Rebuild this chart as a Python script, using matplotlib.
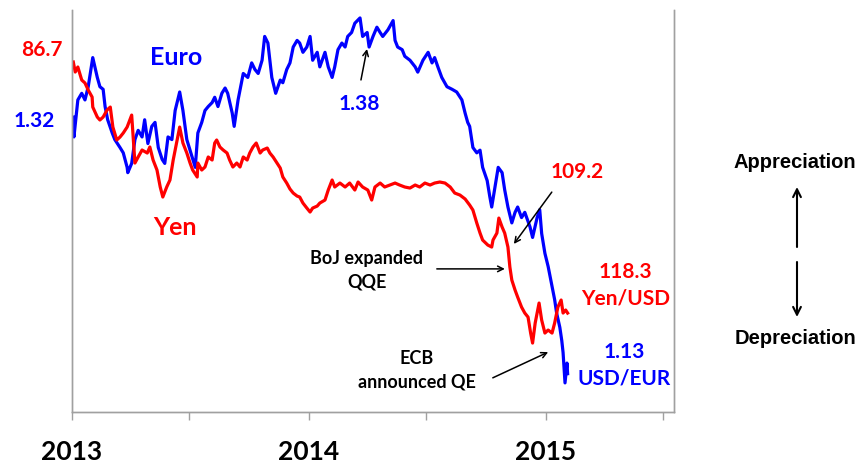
import numpy as np
import pandas as pd
import matplotlib
matplotlib.use('Agg')
import matplotlib.pyplot as plt

# days since 2013-01-01
euro_day = [2, 3, 9, 15, 20, 25, 32, 39, 43, 48,
            51, 55, 62, 66, 74, 79, 85, 86, 92, 97,
            102, 108, 112, 117, 123, 128, 133, 139, 143, 148,
            154, 159, 166, 171, 177, 185, 190, 194, 200, 205,
            210, 216, 220, 225, 231, 236, 240, 247, 250, 256,
            264, 271, 277, 282, 287, 293, 297, 302, 308, 314,
            321, 325, 331, 336, 341, 347, 351, 356, 362, 367,
            371, 378, 382, 390, 395, 401, 405, 410, 416, 421,
            425, 431, 436, 444, 448, 455, 458, 464, 470, 475,
            479, 487, 495, 498, 502, 509, 513, 521, 529, 533,
            541, 549, 555, 559, 564, 570, 578, 586, 593, 601,
            606, 610, 613, 618, 624, 629, 633, 640, 644, 647,
            652, 657, 663, 667, 672, 678, 683, 687, 693, 698,
            706, 710, 717, 721, 724, 729, 734, 740, 744, 747,
            752, 755, 757, 760, 763, 764]
# USD per EUR
euro_rate = [1.325, 1.310, 1.338, 1.343, 1.338, 1.348, 1.370, 1.355, 1.348, 1.346,
             1.333, 1.323, 1.313, 1.308, 1.302, 1.298, 1.287, 1.283, 1.290, 1.308,
             1.315, 1.310, 1.323, 1.305, 1.318, 1.321, 1.302, 1.293, 1.290, 1.310,
             1.308, 1.330, 1.344, 1.330, 1.308, 1.295, 1.287, 1.313, 1.321, 1.330,
             1.333, 1.336, 1.340, 1.333, 1.343, 1.347, 1.343, 1.328, 1.318, 1.338,
             1.358, 1.355, 1.366, 1.361, 1.358, 1.368, 1.386, 1.381, 1.355, 1.343,
             1.353, 1.351, 1.361, 1.366, 1.378, 1.383, 1.381, 1.374, 1.378, 1.386,
             1.368, 1.374, 1.363, 1.374, 1.363, 1.355, 1.363, 1.376, 1.381, 1.378,
             1.386, 1.389, 1.396, 1.400, 1.386, 1.389, 1.378, 1.386, 1.393, 1.389,
             1.386, 1.391, 1.398, 1.383, 1.378, 1.376, 1.371, 1.368, 1.363, 1.359,
             1.368, 1.374, 1.366, 1.370, 1.363, 1.355, 1.348, 1.346, 1.344, 1.338,
             1.328, 1.321, 1.318, 1.302, 1.298, 1.300, 1.287, 1.277, 1.265, 1.257,
             1.272, 1.287, 1.283, 1.270, 1.257, 1.245, 1.253, 1.257, 1.249, 1.253,
             1.242, 1.234, 1.249, 1.255, 1.237, 1.222, 1.212, 1.197, 1.187, 1.177,
             1.166, 1.156, 1.147, 1.124, 1.139, 1.131]

yen_day = [2, 5, 9, 15, 20, 25, 31, 32, 39, 43,
           48, 54, 59, 63, 69, 74, 79, 85, 92, 97,
           102, 108, 116, 120, 125, 131, 136, 140, 146, 151,
           156, 162, 166, 171, 177, 182, 186, 193, 194, 200,
           205, 210, 216, 220, 223, 228, 233, 239, 243, 248,
           254, 259, 264, 270, 274, 279, 284, 290, 294, 301,
           305, 310, 316, 321, 325, 331, 336, 341, 347, 351,
           356, 362, 367, 371, 378, 382, 390, 395, 401, 405,
           413, 421, 428, 436, 441, 448, 456, 462, 467, 475,
           482, 490, 498, 505, 513, 521, 529, 536, 544, 552,
           559, 567, 575, 583, 590, 598, 606, 613, 618, 624,
           629, 633, 641, 647, 649, 655, 658, 663, 667, 672,
           675, 678, 683, 687, 693, 698, 703, 707, 710, 714,
           717, 720, 724, 729, 734, 740, 744, 749, 754, 757,
           761, 764]
# Yen per USD (plotted inverted)
yen_rate = [86.7, 87.96, 87.33, 88.97, 89.34, 90.23, 91.11, 92.37, 93.63, 94.0,
            93.63, 92.75, 92.37, 94.89, 96.52, 96.15, 95.64, 94.89, 93.38, 99.42,
            98.66, 97.78, 98.16, 97.4, 99.04, 100.3, 102.44, 103.7, 102.44, 101.56,
            99.04, 96.52, 94.89, 96.9, 98.16, 99.42, 100.3, 101.18, 99.42, 100.3,
            99.92, 98.66, 99.04, 96.9, 96.52, 97.4, 97.78, 98.16, 99.04, 99.92,
            99.42, 99.92, 98.66, 99.04, 98.16, 97.4, 96.9, 98.16, 97.78, 97.53,
            98.16, 98.66, 99.42, 100.05, 101.18, 101.94, 102.69, 103.2, 103.58, 103.7,
            104.46, 105.09, 105.59, 105.09, 104.84, 104.46, 104.08, 102.82, 101.56, 102.44,
            101.94, 102.44, 101.94, 102.82, 101.81, 102.44, 102.82, 104.08, 102.44, 101.94,
            102.44, 102.19, 101.94, 102.19, 102.44, 102.57, 102.19, 102.44, 101.94, 102.19,
            101.94, 101.81, 101.94, 102.44, 103.2, 103.45, 103.95, 104.71, 105.34, 106.98,
            108.24, 109.12, 109.75, 110.0, 109.12, 108.24, 106.35, 107.48, 108.24, 110.0,
            112.52, 114.16, 115.42, 116.3, 117.56, 118.31, 118.82, 120.83, 122.09, 119.57,
            118.31, 117.05, 119.19, 120.83, 120.45, 120.83, 119.57, 117.56, 116.67, 118.31,
            117.93, 118.31]

tick_dates = ['2013-01-01', '2013-07-01', '2014-01-01', '2014-07-01', '2015-01-01', '2015-07-01']
tick_labels = ['2013', '', '2014', '', '2015', '']

start = pd.Timestamp('2013-01-01')
euro_t = start + pd.to_timedelta(euro_day, unit='D')
yen_t = start + pd.to_timedelta(yen_day, unit='D')

BLUE = '#0000ff'
RED = '#ff0000'
GRAY = '#a0a0a0'
plt.rcParams['font.family'] = ['Lato', 'DejaVu Sans']

fig = plt.figure(figsize=(8.65, 4.63), dpi=100)
ax = fig.add_axes([72 / 865, 1 - 412 / 463, 602 / 865, 402 / 463])
ax2 = ax.twinx()

ax.plot(euro_t, euro_rate, color=BLUE, lw=2.3)
ax2.plot(yen_t, yen_rate, color=RED, lw=2.3)

ax.set_xlim(start, start + pd.Timedelta(days=928))
ax.set_ylim(1.102, 1.406)
ax2.set_ylim(130.77, 80.15)

ax.set_xticks(pd.to_datetime(tick_dates))
ax.set_xticklabels(tick_labels, fontsize=19, fontweight='bold')
ax.tick_params(axis='x', direction='out', length=6, width=1, color=GRAY, pad=14)
ax.set_yticks([])
ax2.set_yticks([])

for a in (ax, ax2):
    a.spines['top'].set_visible(False)
    for s in ('left', 'bottom', 'right'):
        a.spines[s].set_color(GRAY)
        a.spines[s].set_linewidth(1)

tr = ax.transAxes
bold = dict(fontweight='bold', ha='center', va='center')
ax2.text(0.173, 0.881, 'Euro', color=BLUE, fontsize=18, transform=tr, **bold)
ax2.text(0.171, 0.458, 'Yen', color=RED, fontsize=18, transform=tr, **bold)
ax2.text(-0.050, 0.900, '86.7', color=RED, fontsize=15, transform=tr, **bold)
ax2.text(-0.063, 0.724, '1.32', color=BLUE, fontsize=15, transform=tr, **bold)
ax2.text(0.478, 0.766, '1.38', color=BLUE, fontsize=15, transform=tr, **bold)
ax2.text(0.839, 0.597, '109.2', color=RED, fontsize=15, transform=tr, **bold)
ax2.text(0.920, 0.316, '118.3\nYen/USD', color=RED, fontsize=15, linespacing=1.4,
         transform=tr, **bold)
ax2.text(0.917, 0.117, '1.13\nUSD/EUR', color=BLUE, fontsize=15, linespacing=1.4,
         transform=tr, **bold)
ax2.text(0.490, 0.353, 'BoJ expanded\nQQE', color='black', fontsize=13, linespacing=1.45,
         transform=tr, **bold)
ax2.text(0.573, 0.104, 'ECB\nannounced QE', color='black', fontsize=13, linespacing=1.45,
         transform=tr, **bold)

arrow = dict(arrowstyle='->', color='black', lw=1.1, shrinkA=0, shrinkB=0)
for tail, tip in [((0.480, 0.826), (0.490, 0.903)),
                  ((0.797, 0.547), (0.734, 0.418)),
                  ((0.606, 0.356), (0.719, 0.356)),
                  ((0.699, 0.085), (0.791, 0.149))]:
    ax2.annotate('', xy=tip, xytext=tail, xycoords='axes fraction',
                 textcoords='axes fraction', arrowprops=arrow)

# appreciation / depreciation guide on the right
side = dict(fontsize=14.5, fontweight='bold', ha='center', va='center',
            family=['Liberation Sans', 'DejaVu Sans'])
fig.text(795 / 865, 1 - 162 / 463, 'Appreciation', **side)
fig.text(795 / 865, 1 - 338 / 463, 'Depreciation', **side)
arrow2 = dict(arrowstyle='->', color='black', lw=1.5, shrinkA=0, shrinkB=0)
fig.add_artist(plt.matplotlib.patches.FancyArrowPatch(
    (797 / 865, 1 - 247 / 463), (797 / 865, 1 - 187 / 463),
    transform=fig.transFigure, mutation_scale=14, **arrow2))
fig.add_artist(plt.matplotlib.patches.FancyArrowPatch(
    (797 / 865, 1 - 262 / 463), (797 / 865, 1 - 317 / 463),
    transform=fig.transFigure, mutation_scale=14, **arrow2))

fig.savefig('out.png', dpi=100)
